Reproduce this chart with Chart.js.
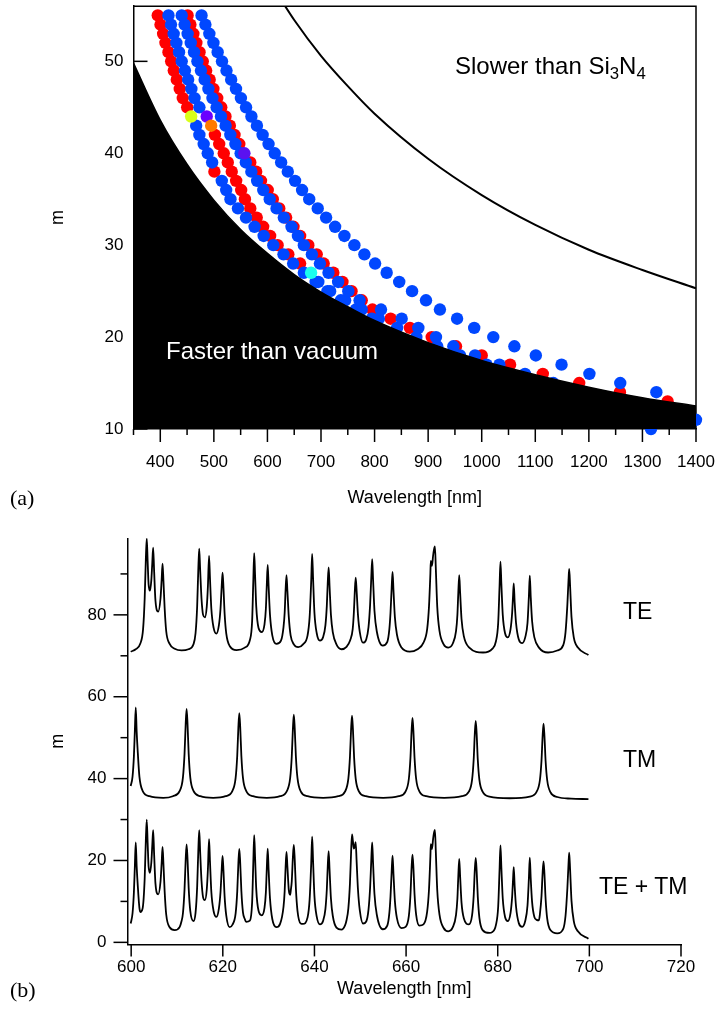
<!DOCTYPE html>
<html><head><meta charset="utf-8">
<script src="https://cdn.jsdelivr.net/npm/chart.js@4/dist/chart.umd.min.js"></script>
<style>
html,body{margin:0;padding:0;background:#fff;}
body{width:721px;height:1018px;position:relative;overflow:hidden;font-family:"Liberation Sans",Arial,sans-serif;}
canvas{position:absolute;left:0;}
#ca{top:0;width:721px;height:520px;}
#cb{top:500px;width:721px;height:518px;}
.lbl{position:absolute;white-space:nowrap;line-height:1;color:#000;font-family:"Liberation Sans",Arial,sans-serif;}
.lbl sub{font-size:0.7em;vertical-align:baseline;position:relative;top:0.28em;line-height:0;}
.serif{font-family:"Liberation Serif","Times New Roman",serif;}
</style></head><body>
<canvas id="cb" width="721" height="518"></canvas>
<canvas id="ca" width="721" height="520"></canvas>
<div class="lbl" style="left:455px;top:54px;font-size:24px;">Slower than Si<sub>3</sub>N<sub>4</sub></div>
<div class="lbl" style="left:166px;top:339px;font-size:24px;color:#fff;">Faster than vacuum</div>
<div class="lbl serif" style="left:10px;top:487px;font-size:22px;">(a)</div>
<div class="lbl" style="left:623px;top:600px;font-size:23px;">TE</div>
<div class="lbl" style="left:623px;top:748px;font-size:23px;">TM</div>
<div class="lbl" style="left:599px;top:875px;font-size:23px;">TE + TM</div>
<div class="lbl serif" style="left:10px;top:979px;font-size:22px;">(b)</div>
<script>
// ---------- Panel (a): mode number m vs wavelength ----------
// dots: [wavelength nm, m]
const redDots = [
  [395.3,55],[400.4,54],[405.4,53],[409.7,52],[415.3,51],[420.3,50],[425.2,49],[430.8,48],[436.4,47],[442.0,46],[450.2,45],[501.0,38],
  [502,42],[510,41],[518.5,40],[526,39],[533.4,38],[541.6,37],[551,36],[558,35],[568,34],[580,33],[592,32],[605,31],[619,30],[639,29],[661,28],
  [451,55],[456.2,54],[461.7,53],[467.3,52],[473.2,51],[479.3,50],[485.6,49],[492.2,48],[499.1,47],[506.3,46],[513.8,45],[521.7,44],[529.9,43],[538.5,42],[547.5,41],
  [568,39],[579,38],[588,37],[600.6,36],[610,35],[622.1,34],[634.9,33],[648.6,32],[661,31],[676.3,30],[692,29],[705,28],[723,27],[740,26],[757,25],
  [776,24],[796,23],[830,22],[866,21],[906.6,20],[952,19],[1000,18],[1053,17],[1114,16],[1182,15],[1258,14],[1347,13]
];
const blueDots = [
  [467,43],[473,42],[481,41],[488.6,40],[496.8,39],[514.8,37],[523,36],[531,35],[545,34],[560,33],[576,32],[593,31],[611,30],[630,29],[648,28],[668,27],[690,26],[712,25],[737,24],[765,23],[795,22],
  [415.3,55],[420,54],[425,53],[430,52],[435,51],[440,50],[446,49],[452,48],[458,47],[464,46],[473,45],
  [695,26],[717,25],[745,24],[776,23],[808,22],[842,21],[878,20],[917,19],[959.5,18],[1009,17],
  [440,55],[445.4,54],[451.1,53],[456.9,52],[463.0,51],[469.3,50],[475.9,49],[482.8,48],[489.9,47],[497.4,46],[505.2,45],[513.3,44],[521.9,43],[530.8,42],[540.2,41],[550,40],
  [559.7,39],[570,38],[580.8,37],[592.2,36],[604.3,35],[617,34],[630.6,33],[645,32],[657,31],[668,30],[683,29],[698,28],[714,27],[732,26],[751,25],
  [772,24],[812,23],[850.6,22],[881.7,21],[914.7,20],[947,19],[987.5,18],[1033,17],[1080.8,16],[1133.6,15],
  [477,55],[484.2,54],[491.6,53],[499.2,52],[507.1,51],[515.2,50],[523.6,49],[532.3,48],[541.3,47],[550.5,46],[560.1,45],[570.1,44],[580.4,43],[591.0,42],[602.1,41],[613.6,40],
  [625.6,39],[638,38],[651.6,37],[664.7,36],[678,35],[693.9,34],[709.5,33],[726.3,32],[743.7,31],[762.3,30],[781,29],[801,28],[822.6,27],[846,26],[870,25],
  [896,24],[922,23],[954,22],[986,21],[1021.6,20],[1061,19],[1101,18],[1149,17],[1201,16],[1258.6,15],[1326,14],
  [1400,11],[1316,10]
];
const hybridDots = [[457.6,44],[486.7,44],[495,43],[557,40],[681.5,27]];
const vacuumLine = [[350,49.8],[400,43.6],[450,38.8],[500,34.9],[550,31.7],[600,29.1],[650,26.8],[700,24.9],[750,23.3],[800,21.8],[900,19.4],[1000,17.45],[1100,15.9],[1200,14.55],[1300,13.4],[1400,12.5]];
const si3n4Line = [[620,57.2],[650,54.5],[700,50.6],[750,47.3],[800,44.3],[900,39.4],[1000,35.45],[1100,32.2],[1200,29.5],[1300,27.3],[1400,25.3]];
const xTicksA = [400,500,600,700,800,900,1000,1100,1200,1300,1400];
const xMinorA = [350,450,550,650,750,850,950,1050,1150,1250,1350];
const yTicksA = [10,20,30,40,50];

// ---------- Panel (b): spectra ----------
const teSpectrum = [[599.9,71.0],[601.0,71.6],[602.0,73.0],[602.6,76.5],[602.95,84.0],[603.2,93.5],[603.4,98.7],[603.6,93.0],[603.8,87.5],[604.1,85.9],[604.4,88.5],[604.6,92.5],[604.8,96.4],[605.0,91.0],[605.3,83.5],[605.9,80.8],[606.4,84.0],[606.65,88.5],[606.85,92.5],[607.05,88.2],[607.3,81.8],[607.65,76.0],[608.4,72.9],[609.5,71.7],[611.0,71.3],[612.5,71.6],[613.6,72.8],[614.05,75.5],[614.4,82.0],[614.65,91.0],[614.85,96.2],[615.05,91.2],[615.35,84.0],[615.7,80.0],[616.1,79.4],[616.5,82.0],[616.75,87.0],[617.0,94.4],[617.2,89.0],[617.5,81.5],[618.0,76.8],[618.6,75.4],[619.15,77.5],[619.5,81.5],[619.75,86.8],[619.95,90.3],[620.15,86.5],[620.4,80.2],[620.75,75.5],[621.5,72.4],[623.0,71.4],[624.8,72.0],[625.9,73.8],[626.4,78.5],[626.65,88.0],[626.85,95.1],[627.05,89.5],[627.3,82.0],[627.8,76.8],[628.5,75.8],[629.1,77.7],[629.4,81.5],[629.6,87.3],[629.8,92.2],[630.0,87.0],[630.3,80.0],[630.8,75.0],[631.7,72.9],[632.7,73.7],[633.25,77.0],[633.5,80.5],[633.7,86.0],[633.9,89.7],[634.1,85.8],[634.4,79.5],[634.8,75.0],[635.5,72.8],[636.45,72.1],[637.5,72.8],[638.5,75.0],[638.95,79.5],[639.3,88.5],[639.5,94.9],[639.7,89.0],[640.0,80.5],[640.5,75.5],[641.2,73.7],[641.9,74.6],[642.4,77.5],[642.7,82.2],[642.9,87.8],[643.1,91.6],[643.3,87.0],[643.6,80.0],[644.0,75.8],[644.8,72.8],[645.9,71.6],[647.0,72.2],[647.8,73.8],[648.35,76.5],[648.6,80.5],[648.8,85.5],[649.0,89.1],[649.2,86.0],[649.5,80.0],[649.9,75.8],[650.6,73.2],[651.3,74.0],[651.8,77.0],[652.15,82.5],[652.4,89.0],[652.6,93.6],[652.8,88.5],[653.1,81.0],[653.6,76.0],[654.9,72.5],[655.9,73.4],[656.35,76.5],[656.6,80.5],[656.85,86.5],[657.05,90.5],[657.25,86.0],[657.55,79.5],[658.0,75.2],[659.0,72.0],[660.8,71.0],[662.5,71.6],[663.8,73.2],[664.6,76.5],[665.0,82.0],[665.3,90.0],[665.4,93.2],[665.65,92.0],[665.9,94.5],[666.1,96.0],[666.3,96.7],[666.5,91.0],[666.8,82.0],[667.3,76.0],[668.2,72.8],[669.2,72.0],[670.2,73.0],[670.9,76.0],[671.2,80.0],[671.4,85.5],[671.6,89.7],[671.8,85.3],[672.1,79.0],[672.6,74.8],[673.8,72.0],[676.8,70.8],[678.8,71.7],[679.6,73.5],[680.1,78.0],[680.4,87.0],[680.6,93.0],[680.8,87.5],[681.1,80.0],[681.6,75.5],[682.2,74.5],[682.8,76.5],[683.15,80.5],[683.35,84.8],[683.5,87.7],[683.7,83.0],[684.0,78.0],[684.6,74.0],[685.35,73.1],[686.0,74.5],[686.5,78.0],[686.8,84.5],[687.0,89.6],[687.2,84.5],[687.5,78.5],[688.0,74.5],[689.0,72.0],[691.0,70.8],[693.0,71.3],[694.3,72.6],[694.8,75.8],[695.2,82.5],[695.45,88.5],[695.6,91.2],[695.8,87.0],[696.1,79.5],[696.6,74.5],[697.5,72.0],[699.8,70.2]];
const tmSpectrum = [[599.9,38.2],[600.3,40.5],[600.6,45.5],[600.8,51.5],[601.0,57.4],[601.2,51.5],[601.45,46.3],[601.8,40.5],[602.5,37.0],[604.0,35.7],[607.0,35.3],[609.1,35.7],[610.6,37.0],[611.3,40.3],[611.65,46.1],[611.9,53.4],[612.1,57.0],[612.3,53.4],[612.55,46.1],[612.9,40.3],[613.6,37.0],[615.1,35.7],[617.9,35.3],[620.6,35.7],[622.1,37.0],[622.8,40.2],[623.15,45.6],[623.4,52.6],[623.6,56.0],[623.8,52.6],[624.05,45.6],[624.4,40.2],[625.1,37.0],[626.6,35.7],[629.6,35.3],[632.5,35.7],[634.0,37.0],[634.7,40.1],[635.05,45.4],[635.3,52.2],[635.5,55.6],[635.7,52.2],[635.95,45.4],[636.3,40.1],[637.0,36.9],[638.5,35.7],[641.9,35.3],[645.2,35.7],[646.7,36.9],[647.4,40.0],[647.75,45.3],[648.0,52.1],[648.2,55.4],[648.4,52.1],[648.65,45.3],[649.0,40.0],[649.7,36.9],[651.2,35.7],[655.0,35.3],[658.4,35.7],[659.9,36.9],[660.6,39.9],[660.95,45.0],[661.2,51.6],[661.4,54.8],[661.6,51.6],[661.85,45.0],[662.2,39.9],[662.9,36.9],[664.4,35.7],[668.3,35.3],[672.2,35.7],[673.7,36.8],[674.4,39.7],[674.75,44.6],[675.0,51.0],[675.2,54.1],[675.4,51.0],[675.65,44.6],[676.0,39.7],[676.7,36.8],[678.2,35.6],[682.6,35.2],[687.0,35.6],[688.5,36.8],[689.2,39.6],[689.55,44.3],[689.8,50.4],[690.0,53.4],[690.2,50.4],[690.45,44.3],[690.8,39.6],[691.5,36.7],[693.0,35.5],[696.0,35.1],[699.8,35.0]];
const sumSpectrum = [[599.9,4.6],[600.3,7.1],[600.6,12.3],[600.8,18.4],[601.0,24.4],[601.2,18.6],[601.45,13.7],[601.8,8.4],[602.0,7.4],[602.5,8.3],[602.95,15.6],[603.2,24.9],[603.4,30.0],[603.6,24.2],[603.8,18.6],[604.1,17.0],[604.4,19.5],[604.6,23.5],[604.8,27.4],[605.0,21.9],[605.3,14.4],[605.9,11.7],[606.4,14.8],[606.65,19.3],[606.85,23.3],[607.05,19.0],[607.3,12.6],[607.65,6.8],[608.4,3.7],[609.5,3.0],[610.6,3.8],[611.0,5.2],[611.3,7.1],[611.65,13.0],[611.9,20.3],[612.1,23.9],[612.3,20.4],[612.55,13.3],[612.9,7.7],[613.6,5.2],[614.05,7.2],[614.4,13.5],[614.65,22.3],[614.85,27.4],[615.05,22.3],[615.35,15.1],[615.7,11.0],[616.1,10.3],[616.5,12.9],[616.75,17.9],[617.0,25.2],[617.2,19.8],[617.5,12.3],[618.0,7.6],[618.6,6.2],[619.15,8.3],[619.5,12.3],[619.75,17.6],[619.95,21.1],[620.15,17.4],[620.4,11.1],[620.75,6.6],[621.5,3.7],[622.1,4.3],[622.8,7.1],[623.15,12.4],[623.4,19.4],[623.6,22.8],[623.8,19.4],[624.05,12.6],[624.4,7.3],[624.8,5.7],[625.1,5.0],[625.9,5.3],[626.4,9.8],[626.65,19.2],[626.85,26.2],[627.05,20.6],[627.3,13.0],[627.8,7.7],[628.5,6.6],[629.1,8.4],[629.4,12.2],[629.6,18.0],[629.8,22.9],[630.0,17.7],[630.3,10.7],[630.8,5.7],[631.7,3.7],[632.5,4.5],[633.25,8.7],[633.5,12.5],[633.7,18.2],[633.9,22.1],[634.1,18.5],[634.4,12.8],[634.7,11.6],[634.85,12.8],[635.05,14.9],[635.3,20.9],[635.5,23.8],[635.7,20.2],[635.95,13.2],[636.3,7.7],[637.0,4.6],[637.5,4.5],[638.5,6.1],[638.95,10.5],[639.3,19.4],[639.5,25.8],[639.7,19.9],[640.0,11.3],[640.5,6.3],[641.2,4.4],[641.9,5.3],[642.4,8.2],[642.7,12.9],[642.9,18.5],[643.1,22.3],[643.3,17.7],[643.6,10.7],[644.0,6.5],[644.8,3.6],[645.9,3.1],[646.7,4.2],[647.0,5.4],[647.4,8.3],[647.75,14.4],[648.0,22.0],[648.2,26.4],[648.4,24.7],[648.6,22.9],[648.8,23.4],[649.0,24.5],[649.2,19.9],[649.5,12.9],[649.9,7.8],[650.6,4.6],[651.3,5.1],[651.8,8.0],[652.15,13.4],[652.4,19.9],[652.6,24.4],[652.8,19.3],[653.1,11.8],[653.6,6.8],[654.9,3.2],[655.9,4.1],[656.35,7.2],[656.6,11.2],[656.85,17.2],[657.05,21.2],[657.25,16.7],[657.55,10.2],[658.0,5.9],[659.0,3.5],[659.9,3.8],[660.6,6.4],[660.95,11.5],[661.2,18.2],[661.4,21.4],[661.6,18.3],[661.85,11.7],[662.2,6.7],[662.9,4.1],[663.8,4.4],[664.6,7.5],[665.0,12.9],[665.3,20.9],[665.4,24.0],[665.65,22.8],[665.9,25.3],[666.1,26.8],[666.3,27.5],[666.5,21.8],[666.8,12.8],[667.3,6.7],[668.2,3.5],[669.2,2.7],[670.2,3.7],[670.9,6.7],[671.2,10.7],[671.4,16.2],[671.6,20.4],[671.8,16.0],[672.1,9.7],[672.6,5.9],[673.7,4.4],[674.4,6.6],[674.75,11.3],[675.0,17.7],[675.2,20.6],[675.4,17.5],[675.65,11.1],[676.0,6.0],[676.7,3.0],[678.2,2.3],[678.8,2.5],[679.6,4.2],[680.1,8.7],[680.4,17.7],[680.6,23.7],[680.8,18.2],[681.1,10.7],[681.6,6.2],[682.2,5.2],[682.8,7.2],[683.15,11.2],[683.35,15.5],[683.5,18.4],[683.7,13.7],[684.0,8.7],[684.6,4.7],[685.35,3.8],[686.0,5.2],[686.5,9.0],[686.8,15.6],[687.0,20.7],[687.2,15.7],[687.5,9.9],[688.0,6.2],[688.5,5.5],[689.0,5.4],[689.2,6.8],[689.55,11.2],[689.8,17.0],[690.0,19.8],[690.2,16.7],[690.45,10.6],[690.8,5.8],[691.5,3.0],[693.0,2.2],[694.3,3.3],[694.8,6.5],[695.2,13.2],[695.45,19.2],[695.6,21.9],[695.8,17.7],[696.1,10.2],[696.6,5.2],[697.5,2.7],[699.8,0.9]];
const xTicksB = [600,620,640,660,680,700,720];
const yTicksB = [0,20,40,60,80];
const yMinorB = [10,30,50,70,90];

// ---------- styling / helpers ----------
const FONT = '"Liberation Sans", Arial, sans-serif';
const hybridColors = ['#d9ff1a','#6a00ff','#ff7a00','#5a12f0','#1affee'];
const pts = arr => arr.map(p => ({x:p[0], y:p[1]}));

const axisTicks = {
  id:'axisTicks',
  beforeDatasetsDraw(chart, args, o){
    const ctx = chart.ctx, ca = chart.chartArea, xs = chart.scales.x, ys = chart.scales.y;
    ctx.save(); ctx.strokeStyle = '#000'; ctx.lineWidth = 1.5; ctx.lineCap = 'butt';
    const line = (x1,y1,x2,y2) => { ctx.beginPath(); ctx.moveTo(x1,y1); ctx.lineTo(x2,y2); ctx.stroke(); };
    (o.xMajor||[]).forEach(v => { const p = xs.getPixelForValue(v); line(p, ca.bottom, p, ca.bottom + o.xMajorLen); });
    (o.xMinor||[]).forEach(v => { const p = xs.getPixelForValue(v); line(p, ca.bottom, p, ca.bottom + o.xMinorLen); });
    (o.yMajor||[]).forEach(v => { const p = ys.getPixelForValue(v); line(ca.left, p, ca.left + o.yDir*o.yMajorLen, p); });
    (o.yMinor||[]).forEach(v => { const p = ys.getPixelForValue(v); line(ca.left, p, ca.left + o.yDir*o.yMinorLen, p); });
    if (o.frame) { ctx.beginPath(); ctx.moveTo(ca.left, ca.top); ctx.lineTo(ca.right, ca.top); ctx.lineTo(ca.right, ca.bottom); ctx.stroke(); }
    ctx.restore();
  }
};

function axis(min, max, tickVals, fixed, isX, title, titlePad, tickPad){
  return {
    type:'linear', min, max,
    grid:{display:false, drawTicks:false},
    border:{display:true, color:'#000', width:1.5},
    ticks:{color:'#000', font:{family:FONT, size:17}, padding:tickPad, autoSkip:false, maxRotation:0, minRotation:0,
           callback: v => String(v)},
    afterBuildTicks: s => { s.ticks = tickVals.map(v => ({value:v})); },
    afterFit: s => { if (isX) s.height = fixed; else s.width = fixed; s.paddingTop = 0; s.paddingBottom = 0; s.paddingLeft = 0; s.paddingRight = 0; },
    title:{display:true, text:title, color:'#000', font:{family:FONT, size:18}, padding: isX ? {top:0, bottom:titlePad} : {top:titlePad, bottom:0}}
  };
}

const dotStyle = c => ({backgroundColor:c, borderColor:c, borderWidth:0, pointRadius:6.2, pointHoverRadius:6.2, clip:false});

new Chart(document.getElementById('ca'), {
  type:'scatter',
  data:{datasets:[
    {type:'line', data:pts(vacuumLine), borderColor:'#000', backgroundColor:'#000', borderWidth:1.5, pointRadius:0, fill:'start', cubicInterpolationMode:'monotone', order:0},
    {type:'line', data:pts(si3n4Line), borderColor:'#000', borderWidth:2, pointRadius:0, fill:false, cubicInterpolationMode:'monotone', order:1},
    Object.assign({data:pts(hybridDots), order:2}, dotStyle(hybridColors)),
    Object.assign({data:pts(blueDots), order:3}, dotStyle('#0047ff')),
    Object.assign({data:pts(redDots), order:4}, dotStyle('#ff0000'))
  ]},
  options:{
    responsive:false, animation:false, events:[],
    layout:{padding:{top:6, right:25, left:0, bottom:0}},
    plugins:{legend:{display:false}, tooltip:{enabled:false},
      axisTicks:{xMajor:xTicksA, xMinor:xMinorA, xMajorLen:13, xMinorLen:6, yMajor:yTicksA, yMajorLen:14, yDir:1, frame:true}},
    scales:{
      x: axis(350, 1400, xTicksA, 91, true, 'Wavelength [nm]', 11, 23),
      y: axis(10, 56, yTicksA, 133.5, false, 'm', 47, 10)
    }
  },
  plugins:[axisTicks]
});

const specStyle = {borderColor:'#000', borderWidth:1.8, pointRadius:0, fill:false, cubicInterpolationMode:'monotone'};
new Chart(document.getElementById('cb'), {
  type:'scatter',
  data:{datasets:[
    Object.assign({type:'line', data:pts(teSpectrum)}, specStyle),
    Object.assign({type:'line', data:pts(tmSpectrum)}, specStyle),
    Object.assign({type:'line', data:pts(sumSpectrum)}, specStyle)
  ]},
  options:{
    responsive:false, animation:false, events:[],
    layout:{padding:{top:38.3, right:40, left:0, bottom:0}},
    plugins:{legend:{display:false}, tooltip:{enabled:false},
      axisTicks:{xMajor:xTicksB, xMajorLen:12, yMajor:yTicksB, yMinor:yMinorB, yMajorLen:14, yMinorLen:7, yDir:-1, frame:false}},
    scales:{
      x: axis(599.2, 720, xTicksB, 73.6, true, 'Wavelength [nm]', 18, 13),
      y: axis(-0.5, 98.7, yTicksB, 127.5, false, 'm', 47, 21)
    }
  },
  plugins:[axisTicks]
});
</script>
</body></html>
